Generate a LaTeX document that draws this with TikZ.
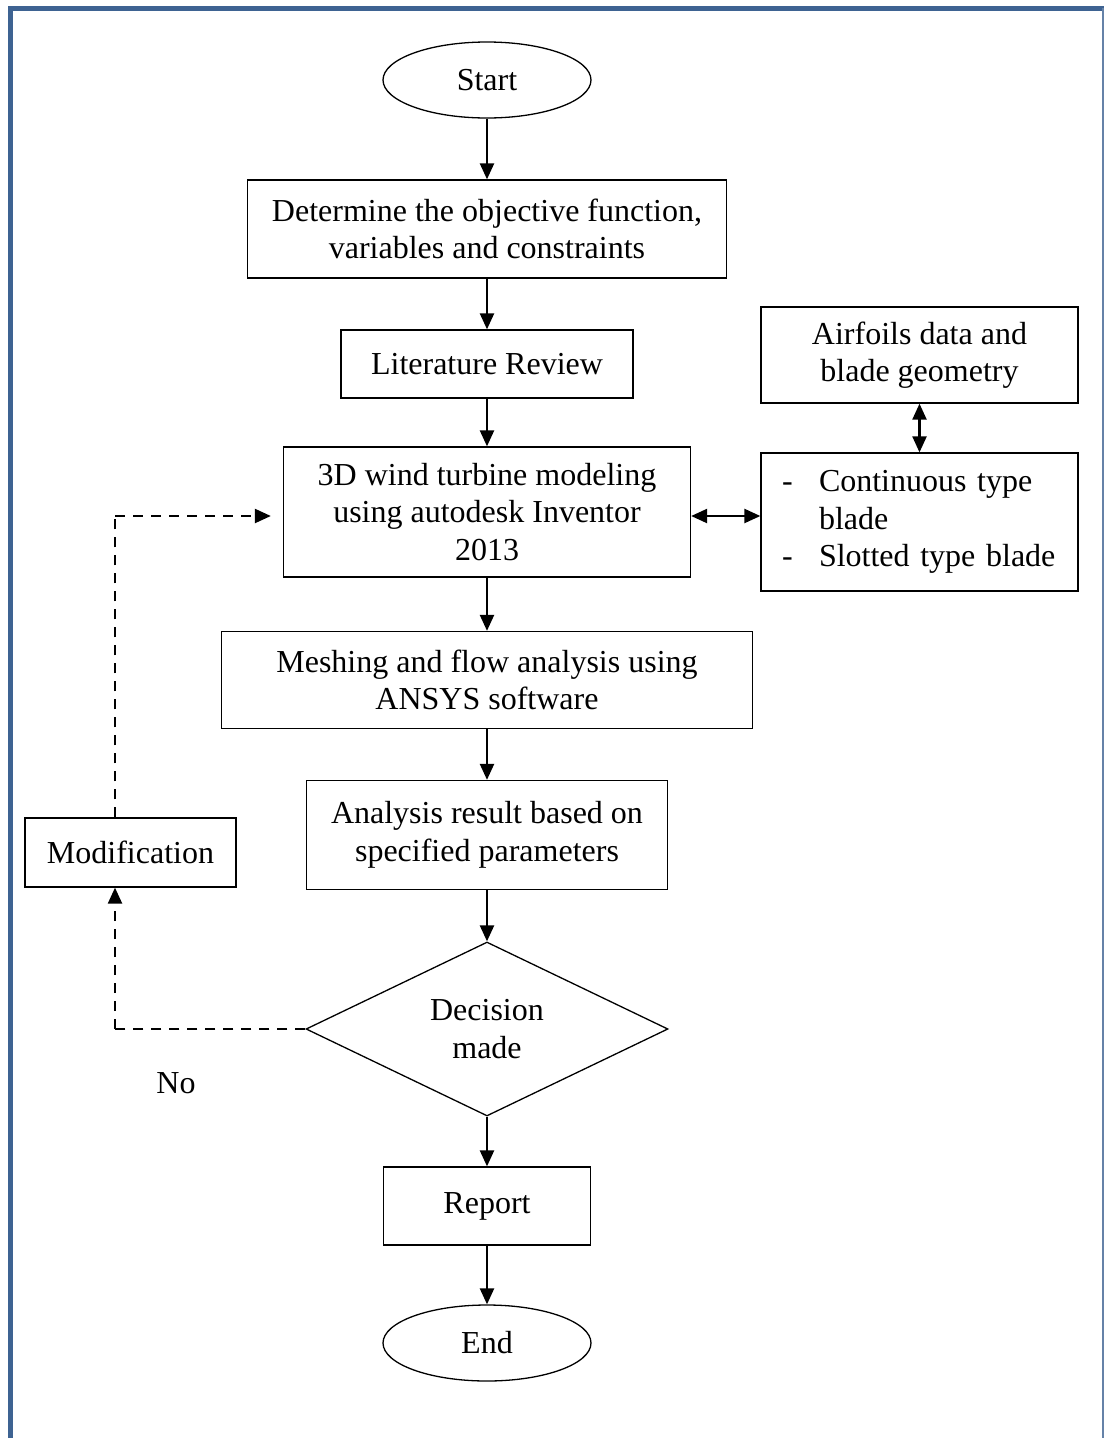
\documentclass[tikz,border=0pt]{standalone}
\usepackage{fontspec}
\setmainfont{Liberation Serif}
\usetikzlibrary{arrows.meta, shapes.geometric, positioning}
\definecolor{framecol}{RGB}{62,99,146}

\begin{document}
\begin{tikzpicture}[x=1pt, y=-1pt, line width=1.3pt,
        font=\fontsize{32}{37.5}\selectfont,
        box/.style={draw, rectangle, inner sep=0pt, align=center},
        oval/.style={draw, ellipse, inner sep=0pt, minimum width=208pt, minimum height=76pt},
        arr/.style={line width=2.3pt, -{Triangle[length=16pt, width=14pt]}},
        dbl/.style={line width=2.3pt, {Triangle[length=16pt, width=14pt]}-{Triangle[length=16pt, width=14pt]}},
        dsh/.style={line width=2.3pt, dash pattern=on 10pt off 8pt}]
        \useasboundingbox (0,0) rectangle (1104,1438);
        \draw[framecol, line width=5pt] (10,1438) -- (10,8) -- (1104,8);
        \draw[framecol!80, line width=1.5pt] (1103,8) -- (1103,1438);

        \node[oval] (start) at (487,80) {Start};
        \node[box, minimum width=479pt, minimum height=98pt] (obj) at (487,229) {Determine the objective function,\\variables and constraints};
        \node[box, minimum width=292pt, minimum height=68pt] (lit) at (487,364) {Literature Review};
        \node[box, minimum width=407pt, minimum height=130pt] (model) at (487,512) {3D wind turbine modeling\\using autodesk Inventor\\2013};
        \node[box, minimum width=531pt, minimum height=97pt] (mesh) at (487,680) {Meshing and flow analysis using\\ANSYS software};
        \node[box, minimum width=361pt, minimum height=109pt] (result) at (487,835) {Analysis result based on\\specified parameters};
        \node[draw, diamond, inner sep=0pt, minimum width=362pt, minimum height=174pt, align=center] (dec) at (487,1029) {Decision\\made};
        \node[box, minimum width=207pt, minimum height=78pt] (report) at (487,1206) {Report};
        \node[oval] (end) at (487,1343) {End};

        \node[box, minimum width=317pt, minimum height=96pt] (airfoil) at (919.5,355) {Airfoils data and\\blade geometry};
        \node[box, align=left, text width=317pt, minimum height=138pt] (blade) at (919.5,522)
            {\hspace*{21pt}\makebox[37pt][l]{-}Continuous type\\\hspace*{58pt}blade\\\hspace*{21pt}\makebox[37pt][l]{-}Slotted type blade};
        \node[box, minimum width=211pt, minimum height=69pt] (mod) at (130.5,852.5) {Modification};
        \node (no) at (176,1083) {No};

        \draw[arr] (start) -- (obj);
        \draw[arr] (obj) -- (lit);
        \draw[arr] (lit) -- (model);
        \draw[arr] (model) -- (mesh);
        \draw[arr] (mesh) -- (result);
        \draw[arr] (result) -- (dec);
        \draw[arr] (dec) -- (report);
        \draw[arr] (report) -- (end);
        \draw[dbl] (airfoil) -- (blade);
        \draw[dbl] ([yshift=-4pt]model.east) -- ([yshift=6pt]blade.west);

        \coordinate (lowturn) at (115,1029);
        \coordinate (upturn) at (115,516);
        \draw[dsh] (dec.west) -- (lowturn);
        \draw[dsh, arr] (lowturn) -- (lowturn |- mod.south);
        \draw[dsh] (upturn |- mod.north) -- (upturn);
        \draw[dsh, arr, shorten >=12pt] (upturn) -- (model.west |- upturn);
    \end{tikzpicture}
\end{document}
